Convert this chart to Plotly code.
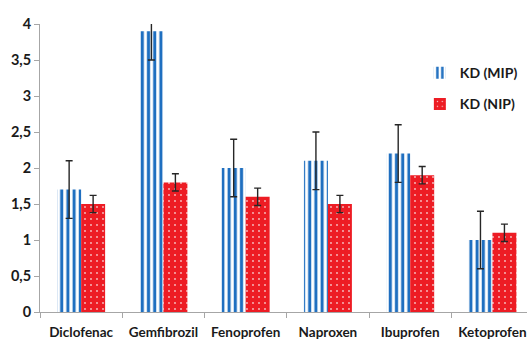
import plotly.graph_objects as go

# Partition coefficients per drug, imprinted (MIP) vs non-imprinted (NIP) polymer
drugs = ["Diclofenac", "Gemfibrozil", "Fenoprofen", "Naproxen", "Ibuprofen", "Ketoprofen"]
kd_mip = [1.7, 3.9, 2.0, 2.1, 2.2, 1.0]
kd_mip_err = [0.4, 0.4, 0.4, 0.4, 0.4, 0.4]
kd_nip = [1.5, 1.8, 1.6, 1.5, 1.9, 1.1]
kd_nip_err = [0.12, 0.12, 0.12, 0.12, 0.12, 0.12]
y_ticks = [0, 0.5, 1, 1.5, 2, 2.5, 3, 3.5, 4]

FONT = "Lato"
TEXT = "#1a1a1a"
AXIS = "#a6a6a6"

fig = go.Figure()

fig.add_trace(go.Bar(
    name="KD (MIP)",
    x=drugs,
    y=kd_mip,
    legendgroup="mip",
    marker=dict(
        color="white",
        line=dict(width=0),
        pattern=dict(shape="|", fgcolor="#1f6fc0", bgcolor="white",
                     size=6.2, solidity=0.5, fillmode="replace"),
    ),
    error_y=dict(type="data", array=kd_mip_err, visible=True,
                 color="#262626", thickness=1.4, width=3.5),
))

fig.add_trace(go.Bar(
    name="KD (NIP)",
    x=drugs,
    y=kd_nip,
    legendgroup="nip",
    marker=dict(
        color="#ed1c24",
        line=dict(width=0),
        pattern=dict(shape=".", fgcolor="#f7c4c6", bgcolor="#ed1c24",
                     size=6, solidity=0.07, fillmode="replace"),
    ),
    error_y=dict(type="data", array=kd_nip_err, visible=True,
                 color="#262626", thickness=1.4, width=3.5),
))

fig.update_layout(
    width=527,
    height=340,
    margin=dict(l=40, r=0, t=24, b=28),
    paper_bgcolor="white",
    plot_bgcolor="white",
    barmode="group",
    bargap=0.417,
    bargroupgap=0,
    separators=", ",
    font=dict(family=FONT, size=13, color=TEXT),
    showlegend=True,
    legend=dict(
        x=0.78, y=0.885, xanchor="left", yanchor="top",
        bgcolor="rgba(0,0,0,0)",
        font=dict(family=FONT, size=14, color=TEXT, weight="bold"),
        tracegroupgap=10,
        itemwidth=30,
    ),
)

fig.update_xaxes(
    type="category",
    range=[-0.5, 5.42],
    showline=True, linecolor=AXIS, linewidth=1,
    ticks="outside", tickson="boundaries", ticklen=5, tickcolor=AXIS,
    tickfont=dict(family=FONT, size=13.5, color=TEXT, weight="bold"),
    ticklabelstandoff=8,
    showgrid=False, zeroline=False,
)

fig.update_yaxes(
    range=[0, 4],
    tickvals=y_ticks,
    showline=True, linecolor=AXIS, linewidth=1,
    ticks="outside", ticklen=5, tickcolor=AXIS,
    tickfont=dict(family=FONT, size=14.5, color=TEXT, weight="bold"),
    showgrid=False, zeroline=False,
)

fig.write_html("out.html")
